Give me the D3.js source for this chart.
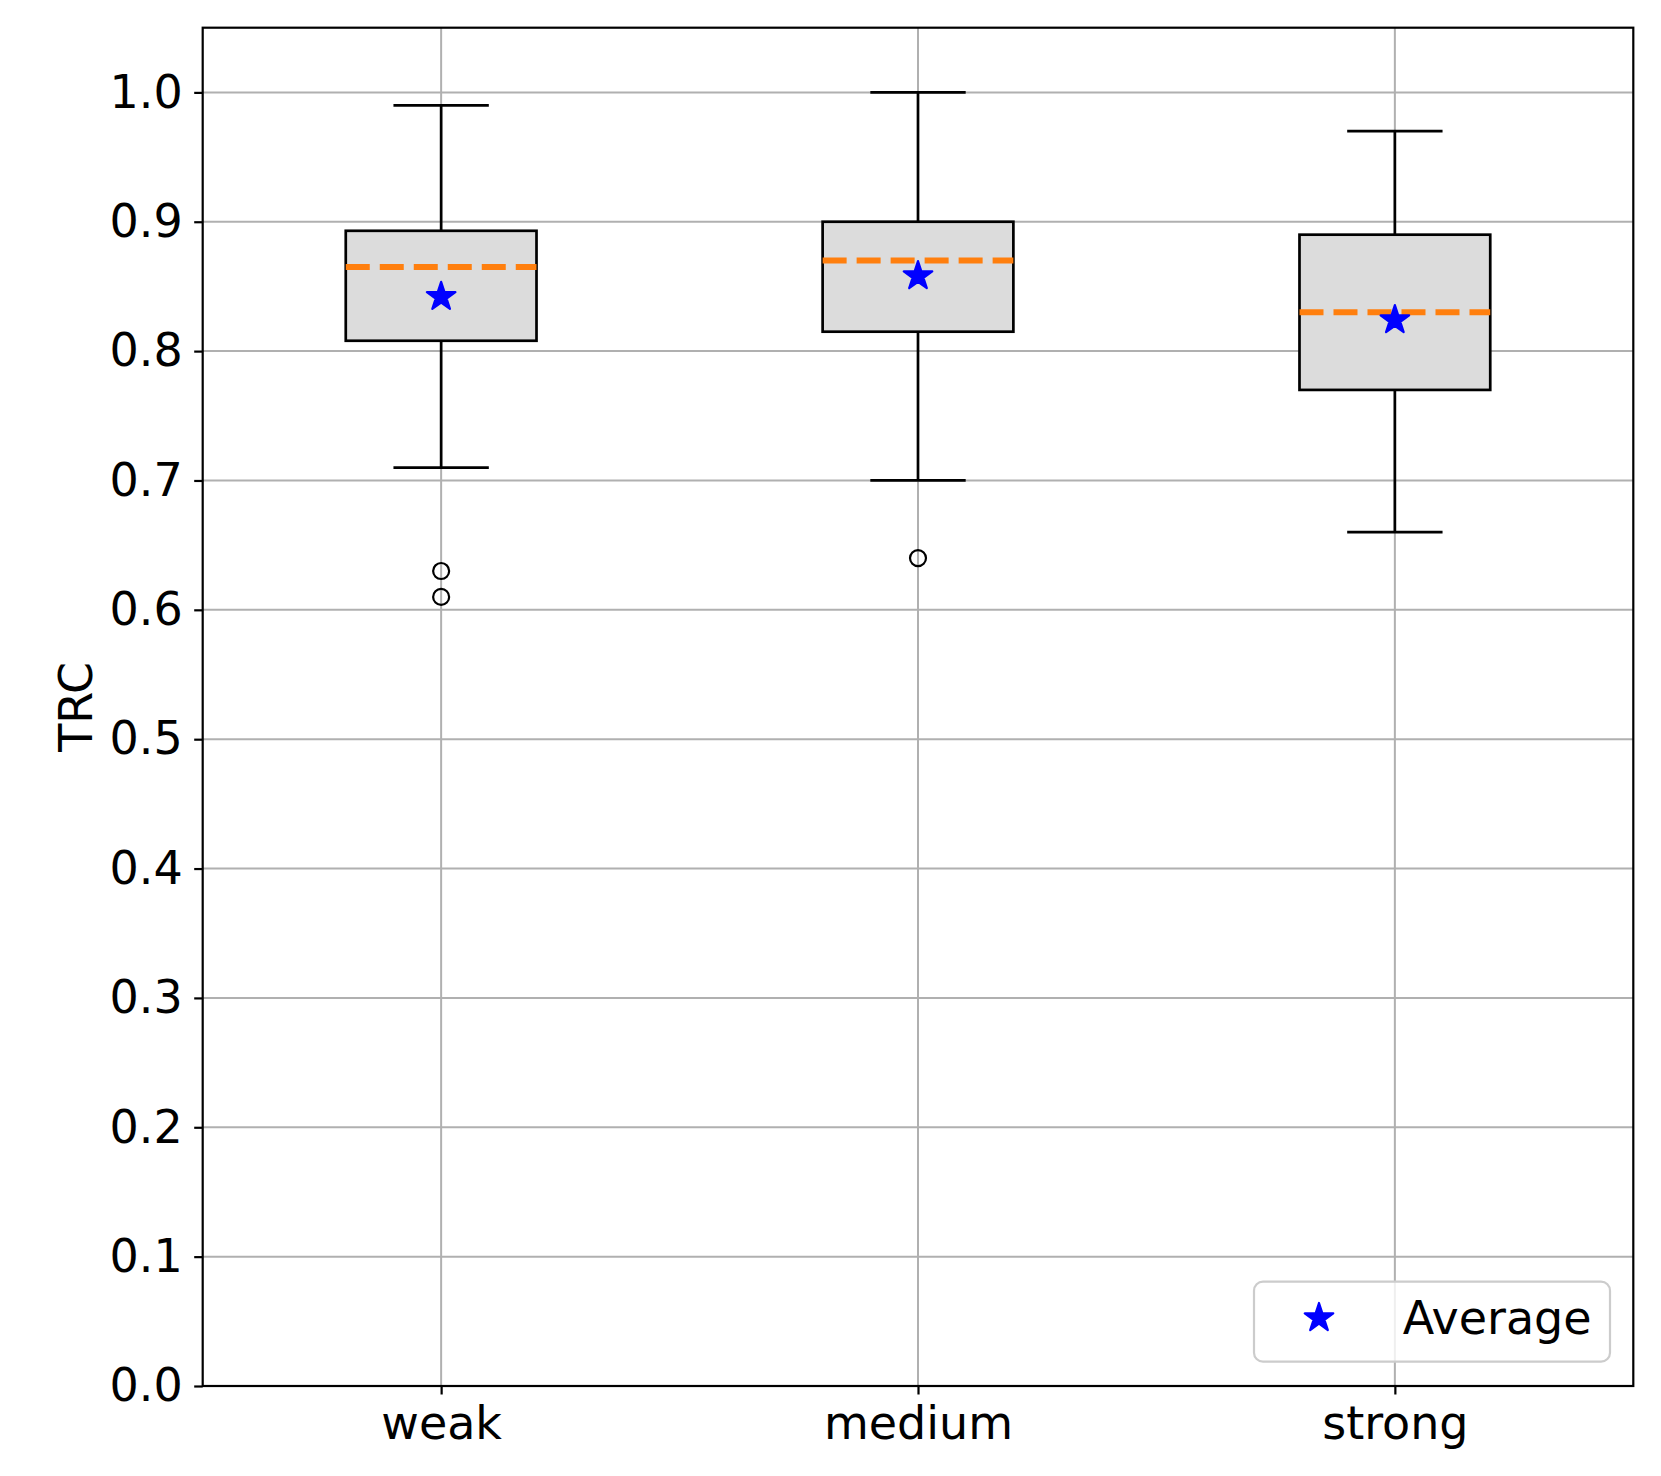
<!DOCTYPE html>
<html>
<head>
<meta charset="utf-8">
<script src="https://cdn.jsdelivr.net/npm/d3@7"></script>
<style>
  body { margin: 0; background: #fff; }
  svg { display: block; font-family: "DejaVu Sans", sans-serif; }
</style>
</head>
<body>
<div id="chart"></div>
<script>
var categories = ["weak", "medium", "strong"];
var q1 = [0.808, 0.815, 0.770];
var medians = [0.865, 0.870, 0.830];
var q3 = [0.893, 0.900, 0.890];
var whiskerLow = [0.71, 0.70, 0.66];
var whiskerHigh = [0.99, 1.00, 0.97];
var means = [0.842, 0.858, 0.824];
var outliers = [[0.63, 0.61], [0.64], []];
var yTicks = [0.0, 0.1, 0.2, 0.3, 0.4, 0.5, 0.6, 0.7, 0.8, 0.9, 1.0];

var WIDTH = 1661, HEIGHT = 1476;
var margin = { top: 27.7, right: 27.7, bottom: 90, left: 202.7 };
var plotW = WIDTH - margin.left - margin.right;
var plotH = HEIGHT - margin.top - margin.bottom;
var FONT = 46;

var svg = d3.select("#chart").append("svg")
  .attr("width", WIDTH)
  .attr("height", HEIGHT);

var g = svg.append("g")
  .attr("transform", "translate(" + margin.left + "," + margin.top + ")");

// matplotlib puts boxes at 1..n with xlim 0.5..n+0.5
var x = d3.scaleLinear().domain([0.5, categories.length + 0.5]).range([0, plotW]);
var y = d3.scaleLinear().domain([0, 1.05]).range([plotH, 0]);
var unit = x(2) - x(1);

// star marker like matplotlib '*'
function starPath(R) {
  var r = R * 0.381966, pts = [];
  for (var i = 0; i < 10; i++) {
    var a = -Math.PI / 2 + i * Math.PI / 5;
    var rr = i % 2 === 0 ? R : r;
    pts.push([rr * Math.cos(a), rr * Math.sin(a)]);
  }
  return "M" + pts.map(function(p) { return p[0].toFixed(2) + "," + p[1].toFixed(2); }).join("L") + "Z";
}

// grid
g.append("g").selectAll("line.hgrid")
  .data(yTicks).enter().append("line")
  .attr("x1", 0).attr("x2", plotW)
  .attr("y1", function(d) { return y(d); })
  .attr("y2", function(d) { return y(d); })
  .style("stroke", "#b0b0b0").style("stroke-width", 2);

g.append("g").selectAll("line.vgrid")
  .data(categories).enter().append("line")
  .attr("x1", function(d, i) { return x(i + 1); })
  .attr("x2", function(d, i) { return x(i + 1); })
  .attr("y1", 0).attr("y2", plotH)
  .style("stroke", "#b0b0b0").style("stroke-width", 2);

// boxes
var boxes = g.selectAll("g.box")
  .data(categories).enter().append("g")
  .attr("class", "box");

boxes.append("line")
  .attr("x1", function(d, i) { return x(i + 1); })
  .attr("x2", function(d, i) { return x(i + 1); })
  .attr("y1", function(d, i) { return y(q1[i]); })
  .attr("y2", function(d, i) { return y(whiskerLow[i]); });
boxes.append("line")
  .attr("x1", function(d, i) { return x(i + 1); })
  .attr("x2", function(d, i) { return x(i + 1); })
  .attr("y1", function(d, i) { return y(q3[i]); })
  .attr("y2", function(d, i) { return y(whiskerHigh[i]); });
boxes.append("line")
  .attr("x1", function(d, i) { return x(i + 0.9); })
  .attr("x2", function(d, i) { return x(i + 1.1); })
  .attr("y1", function(d, i) { return y(whiskerLow[i]); })
  .attr("y2", function(d, i) { return y(whiskerLow[i]); });
boxes.append("line")
  .attr("x1", function(d, i) { return x(i + 0.9); })
  .attr("x2", function(d, i) { return x(i + 1.1); })
  .attr("y1", function(d, i) { return y(whiskerHigh[i]); })
  .attr("y2", function(d, i) { return y(whiskerHigh[i]); });
boxes.selectAll("line")
  .style("stroke", "#000").style("stroke-width", 2.7);

boxes.append("rect")
  .attr("x", function(d, i) { return x(i + 0.8); })
  .attr("width", 0.4 * unit)
  .attr("y", function(d, i) { return y(q3[i]); })
  .attr("height", function(d, i) { return y(q1[i]) - y(q3[i]); })
  .style("fill", "#dcdcdc")
  .style("stroke", "#000")
  .style("stroke-width", 2.7);

boxes.append("line")
  .attr("x1", function(d, i) { return x(i + 0.8); })
  .attr("x2", function(d, i) { return x(i + 1.2); })
  .attr("y1", function(d, i) { return y(medians[i]); })
  .attr("y2", function(d, i) { return y(medians[i]); })
  .style("stroke", "#ff7f0e")
  .style("stroke-width", 6)
  .style("stroke-dasharray", "24,10");

// outliers
boxes.each(function(d, i) {
  d3.select(this).selectAll("circle")
    .data(outliers[i]).enter().append("circle")
    .attr("cx", x(i + 1))
    .attr("cy", function(v) { return y(v); })
    .attr("r", 8)
    .style("fill", "none")
    .style("stroke", "#000")
    .style("stroke-width", 2.2);
});

// means
boxes.append("path")
  .attr("d", starPath(15))
  .attr("transform", function(d, i) { return "translate(" + x(i + 1) + "," + y(means[i]) + ")"; })
  .style("fill", "#0000ff")
  .style("stroke", "#0000ff")
  .style("stroke-width", 2.2)
  .style("stroke-linejoin", "round");

// axes
var yAxis = g.append("g")
  .call(d3.axisLeft(y).tickValues(yTicks).tickFormat(d3.format(".1f"))
    .tickSize(8.5).tickPadding(11.5));
var xAxis = g.append("g")
  .attr("transform", "translate(0," + plotH + ")")
  .call(d3.axisBottom(x).tickValues([1, 2, 3])
    .tickFormat(function(d) { return categories[d - 1]; })
    .tickSize(8.5).tickPadding(11.8));

[yAxis, xAxis].forEach(function(a) {
  a.select(".domain").remove();
  a.selectAll(".tick line").style("stroke", "#000").style("stroke-width", 2.2);
  a.selectAll(".tick text")
    .style("font-size", FONT + "px")
    .style("font-family", "'DejaVu Sans', sans-serif")
    .style("fill", "#000");
});

g.append("rect")
  .attr("width", plotW).attr("height", plotH)
  .style("fill", "none")
  .style("stroke", "#000")
  .style("stroke-width", 2.2);

svg.append("text")
  .attr("transform", "translate(" + 92 + "," + (margin.top + plotH / 2) + ") rotate(-90)")
  .attr("text-anchor", "middle")
  .style("font-size", FONT + "px")
  .text("TRC");

// legend
var legend = g.append("g")
  .attr("transform", "translate(" + (plotW - 23.3 - 356) + "," + (plotH - 24.3 - 80) + ")");
legend.append("rect")
  .attr("width", 356).attr("height", 80)
  .attr("rx", 9).attr("ry", 9)
  .style("fill", "#fff").style("fill-opacity", 0.8)
  .style("stroke", "#cccccc").style("stroke-width", 2.2);
legend.append("path")
  .attr("d", starPath(15))
  .attr("transform", "translate(65,36.3)")
  .style("fill", "#0000ff")
  .style("stroke", "#0000ff")
  .style("stroke-width", 2.2)
  .style("stroke-linejoin", "round");
legend.append("text")
  .attr("x", 148.7).attr("y", 52.3)
  .style("font-size", FONT + "px")
  .text("Average");
</script>
</body>
</html>
